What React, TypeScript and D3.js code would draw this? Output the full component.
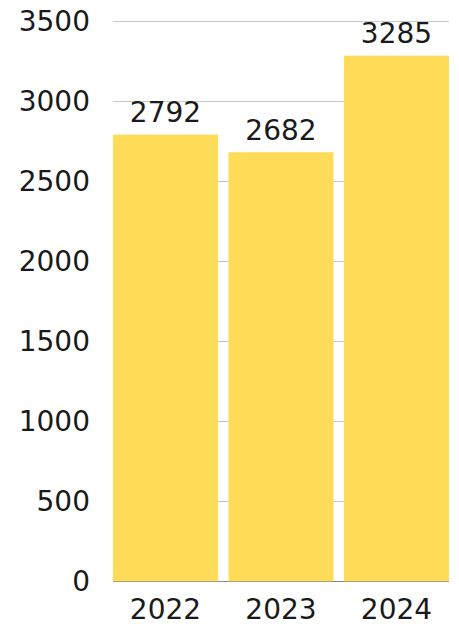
import React from "react";
import * as d3 from "d3";

const categories = ["2022", "2023", "2024"];
const values = [2792, 2682, 3285];
const yTicks = [0, 500, 1000, 1500, 2000, 2500, 3000, 3500];

const W = 459;
const H = 624;
const FONT = "'DejaVu Sans', sans-serif";
const FS = 28;

export default function App() {
  const x = d3.scaleBand<string>().domain(categories).range([113, 449]).paddingInner(0.091).paddingOuter(0);
  const y = d3.scaleLinear().domain([0, 3500]).range([581.3, 21.3]);

  return (
    <svg width={W} height={H} style={{ position: "absolute", left: 0, top: 0 }}>
      {yTicks.map((t) => (
        <g key={t}>
          <line x1={113} x2={449} y1={Math.round(y(t)) + 0.5} y2={Math.round(y(t)) + 0.5} stroke={t === 0 ? "#888" : "#c8c8c8"} strokeWidth={1} />
          <text x={90} y={y(t)} dy="0.36em" textAnchor="end" fontFamily={FONT} fontSize={FS} fill="#1a1a1a">
            {t}
          </text>
        </g>
      ))}
      {categories.map((c, i) => (
        <g key={c}>
          <rect x={x(c)} y={y(values[i])} width={x.bandwidth()} height={y(0) - y(values[i])} fill="#FEDC58" />
          <text x={(x(c) as number) + x.bandwidth() / 2} y={y(values[i]) - 12.5} textAnchor="middle" fontFamily={FONT} fontSize={FS} fill="#1a1a1a">
            {values[i]}
          </text>
          <text x={(x(c) as number) + x.bandwidth() / 2} y={619} textAnchor="middle" fontFamily={FONT} fontSize={FS} fill="#1a1a1a">
            {c}
          </text>
        </g>
      ))}
    </svg>
  );
}
